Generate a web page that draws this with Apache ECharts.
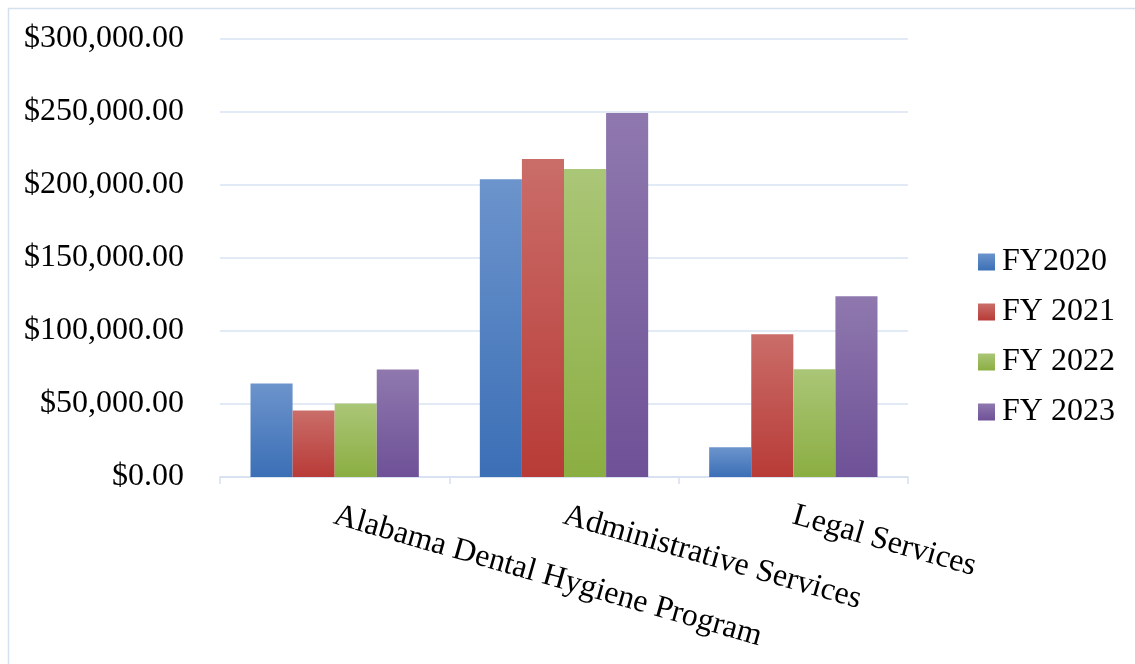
<!DOCTYPE html>
<html>
<head>
<meta charset="utf-8">
<script src="https://cdn.jsdelivr.net/npm/echarts@6/dist/echarts.min.js"></script>
<style>
  html, body { margin: 0; padding: 0; background: #ffffff; }
  #chart { width: 1135px; height: 664px; }
</style>
</head>
<body>
<div id="chart"></div>
<script>
// Program budget comparison by fiscal year
const categories = ['Alabama Dental Hygiene Program', 'Administrative Services', 'Legal Services'];
const seriesNames = ['FY2020', 'FY 2021', 'FY 2022', 'FY 2023'];
const fy2020 = [64000, 204000, 20300];
const fy2021 = [45500, 217800, 97700];
const fy2022 = [50300, 210900, 73800];
const fy2023 = [73600, 249300, 123800];
const yTicks = [0, 50000, 100000, 150000, 200000, 250000, 300000];

const seriesData = [fy2020, fy2021, fy2022, fy2023];
const gradients = [
  ['#6c94cc', '#3b6fb6'],
  ['#ca6d69', '#b83b37'],
  ['#aac677', '#8bae42'],
  ['#8f78ae', '#6e5197']
];

const serif = '"Liberation Serif", "Times New Roman", "DejaVu Serif", serif';

function money(v) {
  return '$' + v.toLocaleString('en-US', { minimumFractionDigits: 2, maximumFractionDigits: 2 });
}

const chart = echarts.init(document.getElementById('chart'));
chart.setOption({
  animation: false,
  backgroundColor: '#ffffff',
  graphic: [{
    type: 'rect',
    shape: { x: 8.5, y: 8.5, width: 1140, height: 670 },
    style: { fill: 'none', stroke: '#d5e0ef', lineWidth: 1.5 },
    silent: true
  }],
  grid: { left: 220, right: 227, top: 39, bottom: 187, containLabel: false },
  legend: {
    orient: 'vertical',
    left: 978,
    top: 246,
    padding: 0,
    itemWidth: 17,
    itemHeight: 17,
    itemGap: 18,
    icon: 'rect',
    textStyle: { fontFamily: serif, fontSize: 32, color: '#000', lineHeight: 32, padding: [0, 0, 0, 2] },
    data: seriesNames
  },
  xAxis: {
    type: 'category',
    data: categories,
    axisLine: { show: true, lineStyle: { color: '#d6e0ef', width: 1.5 } },
    axisTick: { show: true, length: 7, lineStyle: { color: '#d6e0ef', width: 1.5 } },
    axisLabel: {
      interval: 0,
      rotate: -16,
      margin: 38,
      fontFamily: serif,
      fontSize: 32,
      color: '#000'
    },
    splitLine: { show: false }
  },
  yAxis: {
    type: 'value',
    min: yTicks[0],
    max: yTicks[yTicks.length - 1],
    interval: yTicks[1] - yTicks[0],
    axisLine: { show: false },
    axisTick: { show: false },
    axisLabel: {
      margin: 36,
      fontFamily: serif,
      fontSize: 32,
      color: '#000',
      formatter: money
    },
    splitLine: { show: true, lineStyle: { color: '#d9e3f2', width: 1.5 } }
  },
  series: seriesNames.map((name, i) => ({
    name: name,
    type: 'bar',
    data: seriesData[i],
    barGap: '0%',
    barCategoryGap: '26.6%',
    itemStyle: {
      color: new echarts.graphic.LinearGradient(0, 0, 0, 1, [
        { offset: 0, color: gradients[i][0] },
        { offset: 1, color: gradients[i][1] }
      ])
    }
  }))
});
</script>
</body>
</html>
